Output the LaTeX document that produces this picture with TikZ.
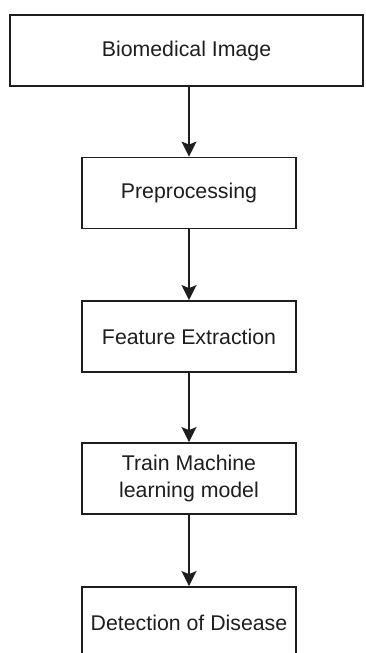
\documentclass[tikz,border=0pt]{standalone}
\usepackage{fontspec}
\setmainfont{Liberation Sans}
\usetikzlibrary{arrows.meta}
\definecolor{ink}{HTML}{1E1E1E}
\tikzset{
  x=1pt, y=-1pt,
  stage/.style={draw=ink, line width=1.8pt, minimum width=214pt, minimum height=71pt,
    inner sep=0pt, align=center, text=ink,
    font=\fontsize{21.3}{27}\selectfont},
  flow/.style={draw=ink, line width=1.8pt,
    -{Stealth[length=15pt, width=15pt, inset=3pt]}}
}
\begin{document}
\begin{tikzpicture}
  \useasboundingbox (0,0) rectangle (365,653);
  \clip (0,0) rectangle (365,653);
  \fill[white] (0,0) rectangle (365,653);
  % pipeline stages
  \node[stage, minimum width=353pt] (img) at (186.5,50.5) {Biomedical Image};
  \node[stage] (pre) at (189,193) {Preprocessing};
  \node[stage] (feat) at (189,336.5) {Feature Extraction};
  \node[stage] (train) at (189,478.5) {Train Machine\\learning model};
  \node[stage] (det) at (189,622.5) {Detection of Disease};
  % connectors
  \draw[flow] (img.south -| pre.north) -- (pre.north);
  \draw[flow] (pre.south) -- (feat.north);
  \draw[flow] (feat.south) -- (train.north);
  \draw[flow] (train.south) -- (det.north);
\end{tikzpicture}
\end{document}
